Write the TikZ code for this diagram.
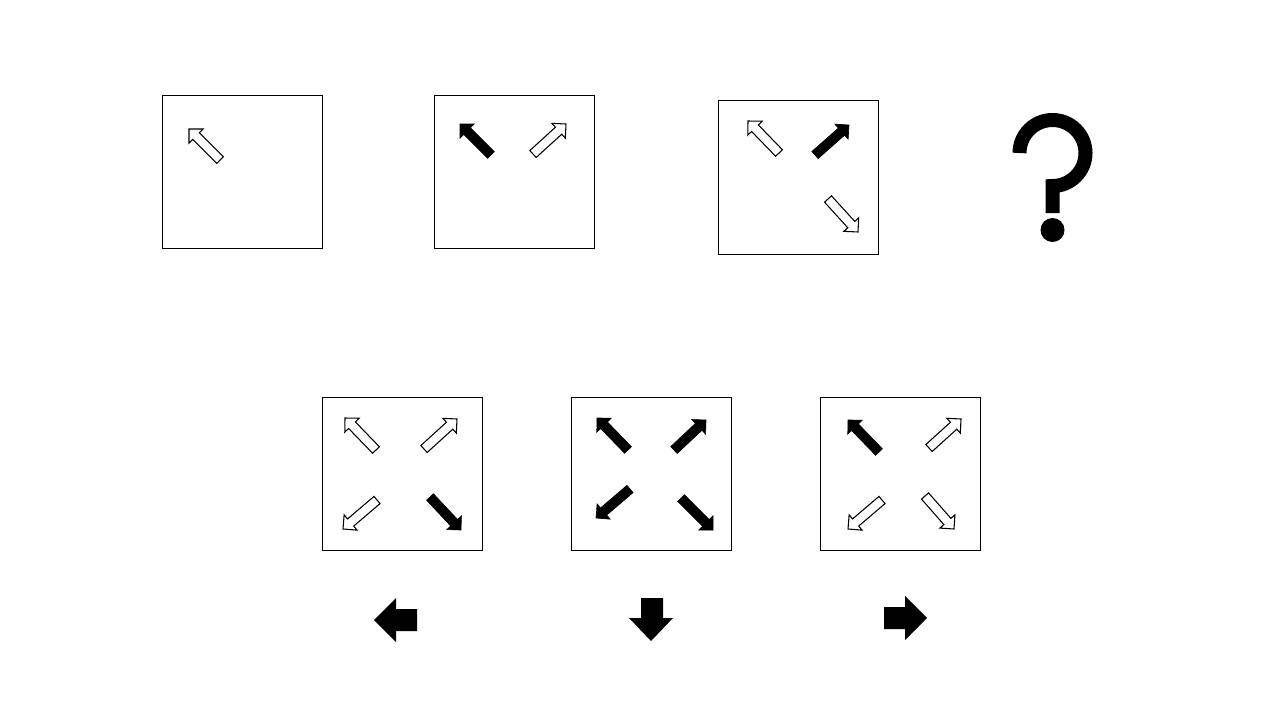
\documentclass[tikz,border=0pt]{standalone}
\usetikzlibrary{calc}
\tikzset{
  panel/.style={draw=black, line width=0.75pt, fill=white},
  warrow/.style={draw=black, line width=0.8pt, fill=white, line join=miter},
  barrow/.style={draw=black, line width=0.5pt, fill=black, line join=miter},
  bigarrow/.style={fill=black, draw=none},
  qmark/.style={draw=black, line width=10.5pt, line cap=butt},
}
% \blockarrow{style}{x1}{y1}{x2}{y2}: tail (x1,y1) to tip (x2,y2), pixel coordinates
\newcommand{\blockarrow}[5]{%
  \pgfmathsetmacro\baang{atan2(-((#5)-(#3)),(#4)-(#2))}%
  \pgfmathsetmacro\balen{veclen((#4)-(#2),(#5)-(#3))}%
  \pgfmathsetmacro\babase{\balen-10}%
  \begin{scope}[shift={(#2,#3)}, rotate=\baang]
    \draw[#1] (0,4.7) -- (\babase,4.7) -- (\babase,10) -- (\balen,0)
      -- (\babase,-10) -- (\babase,-4.7) -- (0,-4.7) -- cycle;
  \end{scope}%
}
\begin{document}
\begin{tikzpicture}[x=0.75pt, y=-0.75pt]
\useasboundingbox[fill=white] (0,0) rectangle (1280,714);

% top row panels
\draw[panel] (162,95) rectangle (322,248);
\draw[panel] (434,95) rectangle (594,248);
\draw[panel] (718,100) rectangle (878,254);

% bottom row panels
\draw[panel] (322,397) rectangle (482,550);
\draw[panel] (571,397) rectangle (731,550);
\draw[panel] (820,397) rectangle (980,550);

% panel 1
\blockarrow{warrow}{220}{160}{189}{129}
% panel 2
\blockarrow{barrow}{491}{155}{460}{124}
\blockarrow{warrow}{533}{154}{566}{124}
% panel 3
\blockarrow{warrow}{779}{153}{748}{121}
\blockarrow{barrow}{815}{155}{849}{125}
\blockarrow{warrow}{828}{199}{858}{232}

% option 1
\blockarrow{warrow}{376}{450}{345}{418}
\blockarrow{warrow}{424}{449}{457}{419}
\blockarrow{warrow}{377}{500}{343}{529}
\blockarrow{barrow}{430}{497}{461}{530}
% option 2
\blockarrow{barrow}{628}{450}{597}{418}
\blockarrow{barrow}{674}{450}{706}{420}
\blockarrow{barrow}{630}{489}{596}{518}
\blockarrow{barrow}{681}{498}{713}{530}
% option 3
\blockarrow{barrow}{879}{452}{848}{420}
\blockarrow{warrow}{929}{448}{961}{419}
\blockarrow{warrow}{882}{500}{848}{529}
\blockarrow{warrow}{925}{496}{954}{529}

% answer arrows
\fill[bigarrow] (374,620) -- (396,598) -- (396,609) -- (417,609) -- (417,631) -- (396,631) -- (396,642) -- cycle;
\fill[bigarrow] (641,598) -- (663,598) -- (663,618) -- (673,618) -- (651,641) -- (629,618) -- (641,618) -- cycle;
\fill[bigarrow] (884,607) -- (905,607) -- (905,596) -- (927,618) -- (905,640) -- (905,629) -- (884,629) -- cycle;

% question mark
\draw[qmark] (1019.5,153) arc[start angle=180, end angle=450, radius=33] -- (1052.5,213);
\fill (1052.5,230) circle[radius=12];
\end{tikzpicture}
\end{document}
